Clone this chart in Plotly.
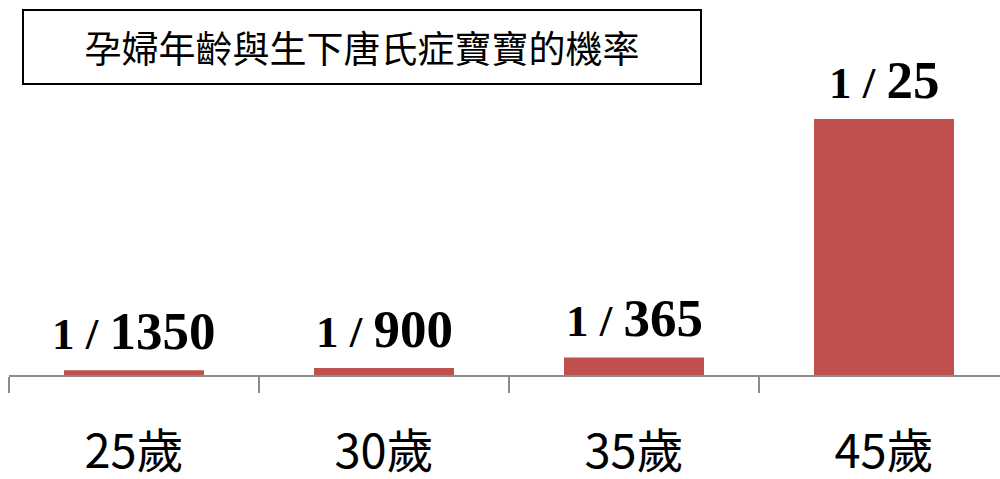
import plotly.graph_objects as go

categories = ["25歲", "30歲", "35歲", "45歲"]
denominators = [1350, 900, 365, 25]
risk = [0.000741, 0.001111, 0.002740, 0.040000]
title_text = "孕婦年齡與生下唐氏症寶寶的機率"

labels = [f"<span style='font-size:45px'>1 / </span>{d}" for d in denominators]

W, H = 1000, 479
L, R, T, B = 9, 0, 0, 104
pw = W - L - R
ph = H - T - B

fig = go.Figure()
fig.add_trace(go.Bar(
    x=categories, y=risk, width=0.56,
    marker=dict(color="#C0504D", line=dict(width=0)),
    hoverinfo="skip",
))

for c, v, t in zip(categories, risk, labels):
    fig.add_annotation(
        x=c, y=v, xref="x", yref="y", xanchor="center", yanchor="bottom",
        yshift=8, text=t, showarrow=False,
        font=dict(family="Liberation Serif", size=53, color="#000000", weight="bold"),
    )

def px_x(x):
    return (x - L) / pw

def px_y(y):
    return (H - B - y) / ph

fig.add_annotation(
    xref="paper", yref="paper", x=px_x(362), y=px_y(47),
    xanchor="center", yanchor="middle",
    text=title_text, showarrow=False,
    font=dict(family="Noto Sans CJK TC", size=37, color="#000000"),
    width=676, height=72, bordercolor="#000000", borderwidth=2, borderpad=0,
    bgcolor="rgba(255,255,255,0)", align="center", valign="middle",
)

fig.update_layout(
    width=W, height=H,
    margin=dict(l=L, r=R, t=T, b=B, pad=0, autoexpand=False),
    paper_bgcolor="white", plot_bgcolor="white",
    showlegend=False, bargap=0.44,
    xaxis=dict(
        type="category", range=[-0.5, -0.5 + pw / 250], automargin=False,
        showline=True, linecolor="#8C8C8C", linewidth=2,
        ticks="outside", tickson="boundaries", ticklen=16, tickwidth=2, tickcolor="#8C8C8C",
        tickfont=dict(family="Noto Sans CJK TC", size=47, color="#000000"),
        ticklabelstandoff=35, showgrid=False, zeroline=False, fixedrange=True,
    ),
    yaxis=dict(visible=False, range=[0, 0.0586], showgrid=False, zeroline=False, fixedrange=True),
)

fig.write_html("out.html")
